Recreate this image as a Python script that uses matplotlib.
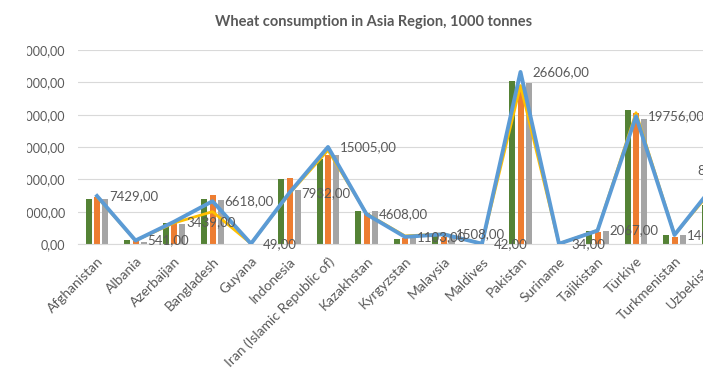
import matplotlib
matplotlib.use("Agg")
import matplotlib.pyplot as plt
from matplotlib.transforms import Bbox, TransformedBbox
import numpy as np

plt.rcParams['font.family'] = ['Lato', 'DejaVu Sans']

countries = ["Afghanistan", "Albania", "Azerbaijan", "Bangladesh", "Guyana",
             "Indonesia", "Iran (Islamic Republic of)", "Kazakhstan", "Kyrgyzstan",
             "Malaysia", "Maldives", "Pakistan", "Suriname", "Tajikistan",
             "Türkiye", "Turkmenistan", "Uzbekistan"]

# bar series (thousand tonnes)
bars_green = [6900, 570, 3200, 6900, 60, 10050, 13100, 5100, 780, 1300, 40,
              25200, 30, 2000, 20700, 1400, 6000]
bars_orange = [7200, 400, 3500, 7550, 40, 10150, 13800, 4750, 950, 1150, 40,
               24300, 30, 1800, 20200, 1150, 6200]
bars_gray = [6950, 300, 3050, 6800, 50, 8350, 13800, 5100, 1000, 1050, 40,
             24900, 30, 2050, 19300, 1400, 6200]

# line series (thousand tonnes)
line_yellow = [7300, 541, 3250, 5000, 60, 7800, 14500, 4700, 1250, 1550, 42,
               24500, 34, 2100, 20300, 1450, 8500]
line_blue = [7429, 541, 3439, 6618, 49, 7932, 15005, 4608, 1103, 1508, 42,
             26606, 34, 2067, 19756, 1400, 8900]

y_ticks = [0, 5000, 10000, 15000, 20000, 25000, 30000]

GREEN = "#548235"
ORANGE = "#ED7D31"
GRAY = "#A5A5A5"
YELLOW = "#FFC000"
BLUE = "#5B9BD5"
TEXT = "#595959"
GRID = "#D9D9D9"

W, H = 703, 370
fig = plt.figure(figsize=(W / 100, H / 100), dpi=100)

n = len(countries)
cat_px = 38.5
left_px = 77.75
ax = fig.add_axes([left_px / W, (H - 244) / H, n * cat_px / W, 194 / H])

x = np.arange(n)
bw = 6 / cat_px
step = 8.3 / cat_px
ax.bar(x - step, bars_green, width=bw, color=GREEN, zorder=2)
ax.bar(x, bars_orange, width=bw, color=ORANGE, zorder=2)
ax.bar(x + step, bars_gray, width=bw, color=GRAY, zorder=2)

ax.plot(x, line_yellow, color=YELLOW, lw=2.0, zorder=3, solid_joinstyle='round')
ax.plot(x, line_blue, color=BLUE, lw=2.8, zorder=4, solid_joinstyle='round')

def fmt(v):
    return f"{v:.2f}".replace(".", ",")

off = 12 * 72 / 100
for i, v in enumerate(line_blue):
    if i == n - 1:
        ax.annotate(fmt(v), (i, v), xytext=(-16 * 0.72, 16 * 0.72),
                    textcoords="offset points", ha="left", va="center",
                    fontsize=9.5, color=TEXT, zorder=5, annotation_clip=False)
    else:
        ax.annotate(fmt(v), (i, v), xytext=(off, 0), textcoords="offset points",
                    ha="left", va="center", fontsize=9.5, color=TEXT, zorder=5,
                    annotation_clip=False)

ax.set_xlim(-0.5, n - 0.5)
ax.set_ylim(0, 30000)
ax.set_yticks(y_ticks)
ax.set_yticklabels([fmt(v) for v in y_ticks])
ax.set_xticks(x)
ax.set_xticklabels(countries, rotation=45, ha="right", va="top",
                   rotation_mode="anchor")

ax.tick_params(axis="y", length=0, pad=9, labelsize=9, labelcolor=TEXT)
ax.tick_params(axis="x", length=0, pad=8, labelsize=10, labelcolor=TEXT)

# the chart area starts a little in from the left edge; value labels are cut there
chart_area = TransformedBbox(Bbox([[27 / W, 0], [1, 1]]), fig.transFigure)
for lbl in ax.get_yticklabels():
    lbl.set_clip_on(True)
    lbl.set_clip_box(chart_area)

ax.grid(axis="y", color=GRID, lw=0.8, zorder=0)
ax.set_axisbelow(True)
for s in ["top", "right", "left"]:
    ax.spines[s].set_visible(False)
ax.spines["bottom"].set_color(GRID)
ax.spines["bottom"].set_linewidth(0.8)
ax.set_facecolor("white")

fig.text(374 / W, 1 - 22 / H, "Wheat consumption in Asia Region, 1000 tonnes",
         ha="center", va="center", fontsize=10.5, fontweight="bold", color=TEXT)

fig.savefig("out.png", dpi=100, facecolor="white")
